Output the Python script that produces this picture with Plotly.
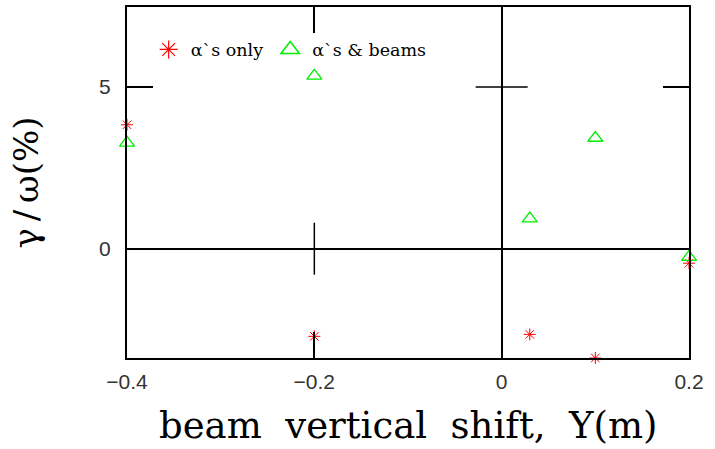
import plotly.graph_objects as go

# Data
x_vals = [-0.4, -0.2, 0.03, 0.1, 0.2]
alpha_only = [3.83, -2.71, -2.65, -3.38, -0.45]
alpha_beams = [3.27, 5.34, 0.93, 3.42, -0.26]

x_ticks = [-0.4, -0.2, 0, 0.2]
x_tick_text = ["\u22120.4", "\u22120.2", "0", "0.2"]
y_ticks = [0, 5]
y_tick_text = ["0", "5"]

x_title = "beam\u00a0 vertical\u00a0 shift,\u00a0 Y(m)"
y_title = "\u03b3\u2009/\u2009\u03c9(%)"

x_range = [-0.4, 0.2]
y_range = [-3.38, 7.47]

RED = "red"
GREEN = "#00ee00"

fig = go.Figure()
fig.add_trace(go.Scatter(
    x=x_vals, y=alpha_only, mode="markers", showlegend=False,
    marker=dict(symbol="asterisk-open", size=10, color=RED,
                line=dict(color=RED, width=1)),
    cliponaxis=False,
))
fig.add_trace(go.Scatter(
    x=x_vals, y=alpha_beams, mode="markers", showlegend=False,
    marker=dict(symbol="triangle-up-open", size=13, color=GREEN,
                line=dict(color=GREEN, width=1.3)),
    cliponaxis=False,
))
# legend entries (larger symbols, as in the reference key)
fig.add_trace(go.Scatter(
    x=[None], y=[None], mode="markers", name="\u03b1`s only",
    marker=dict(symbol="asterisk-open", size=15, color=RED,
                line=dict(color=RED, width=1.2)),
))
fig.add_trace(go.Scatter(
    x=[None], y=[None], mode="markers", name="\u03b1`s & beams",
    marker=dict(symbol="triangle-up-open", size=19, color=GREEN,
                line=dict(color=GREEN, width=1.5)),
))

TICK_PX = 26
shapes = []
for xt in x_ticks:
    if xt != 0 and x_range[0] < xt < x_range[1]:
        shapes.append(dict(type="line", xref="x", yref="y", x0=xt, x1=xt,
                           ysizemode="pixel", yanchor=0, y0=-TICK_PX, y1=TICK_PX,
                           line=dict(color="black", width=1.5)))
for yt in y_ticks:
    if yt != 0 and y_range[0] < yt < y_range[1]:
        shapes.append(dict(type="line", xref="x", yref="y", y0=yt, y1=yt,
                           xsizemode="pixel", xanchor=0, x0=-TICK_PX, x1=TICK_PX,
                           line=dict(color="black", width=1.5)))

axis_common = dict(
    showgrid=False, zeroline=True, zerolinecolor="black", zerolinewidth=1.5,
    showline=True, linecolor="black", linewidth=2, mirror="ticks",
    ticks="inside", ticklen=TICK_PX, tickwidth=1.5, tickcolor="black",
    tickfont=dict(family="Liberation Sans", size=21, color="#333"),
)

fig.update_layout(
    width=715, height=449,
    margin=dict(l=127, r=26, t=5, b=91),
    paper_bgcolor="white", plot_bgcolor="white",
    shapes=shapes,
    xaxis=dict(range=x_range, tickvals=x_ticks, ticktext=x_tick_text,
               ticklabelstandoff=4, **axis_common),
    yaxis=dict(range=y_range, tickvals=y_ticks, ticktext=y_tick_text,
               ticklabelstandoff=10,
               title=dict(text=y_title,
                          font=dict(family="DejaVu Serif", size=34, color="black"),
                          standoff=50),
               **axis_common),
    annotations=[dict(text=x_title, xref="paper", yref="paper", x=0.5, y=0,
                      xanchor="center", yanchor="middle", yshift=-67,
                      showarrow=False,
                      font=dict(family="DejaVu Serif", size=37, color="black"))],
    legend=dict(orientation="h", x=0.035, y=0.93, xanchor="left", yanchor="top",
                bgcolor="rgba(0,0,0,0)", itemwidth=34,
                font=dict(family="DejaVu Serif", size=17.5, color="black")),
    showlegend=True,
)

fig.write_html("out.html", config={"displayModeBar": False},
               post_script="document.body.style.margin='0';")
